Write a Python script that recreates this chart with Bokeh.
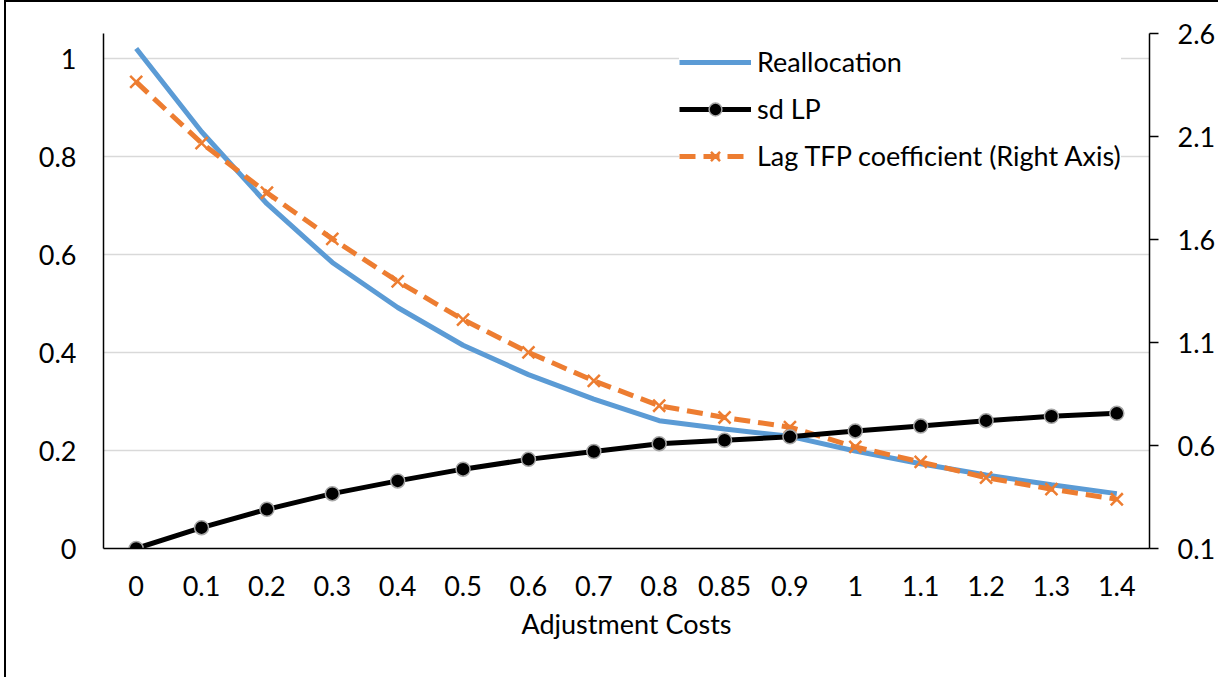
from bokeh.plotting import figure
from bokeh.models import (FactorRange, Range1d, LinearAxis, FixedTicker, Legend, LegendItem)
from bokeh.embed import file_html
from bokeh.resources import INLINE

# ---- data ----
costs = ["0", "0.1", "0.2", "0.3", "0.4", "0.5", "0.6", "0.7", "0.8", "0.85",
         "0.9", "1", "1.1", "1.2", "1.3", "1.4"]
reallocation = [1.021, 0.851, 0.704, 0.584, 0.492, 0.415, 0.355, 0.305, 0.261,
                0.244, 0.229, 0.199, 0.173, 0.150, 0.130, 0.112]
sd_lp = [0.000, 0.0425, 0.080, 0.112, 0.138, 0.162, 0.182, 0.198, 0.214,
         0.221, 0.228, 0.240, 0.250, 0.261, 0.270, 0.276]
lag_tfp = [2.365, 2.068, 1.827, 1.603, 1.397, 1.211, 1.052, 0.914, 0.793,
           0.736, 0.689, 0.593, 0.520, 0.444, 0.388, 0.339]
left_ticks = [0, 0.2, 0.4, 0.6, 0.8, 1]
right_ticks = [0.1, 0.6, 1.1, 1.6, 2.1, 2.6]

FONT = "Lato"
FS = "27px"

p = figure(x_range=FactorRange(factors=costs, range_padding=0),
           y_range=Range1d(0, 1.0515),
           frame_width=1046, frame_height=515,
           min_border_left=97, min_border_right=69,
           min_border_top=31, min_border_bottom=129,
           output_backend="svg", toolbar_location=None)
p.extra_y_ranges = {"right": Range1d(0.1, 2.6)}
p.outline_line_color = None
p.background_fill_color = "white"
p.border_fill_color = "white"
p.styles = {"border-left": "2px solid black", "border-top": "2px solid black",
            "margin-left": "4px"}

# grid
p.xgrid.grid_line_color = None
p.ygrid.grid_line_color = "#d9d9d9"
p.ygrid.grid_line_width = 1.5
p.ygrid.ticker = FixedTicker(ticks=left_ticks)

# left axis
ya = p.yaxis[0]
ya.ticker = FixedTicker(ticks=left_ticks)
ya.major_tick_out = 0
ya.major_tick_in = 0
ya.minor_tick_out = 0
ya.minor_tick_in = 0
ya.axis_line_color = "black"
ya.axis_line_width = 1.5
ya.major_label_standoff = 27
ya.major_label_text_font = FONT
ya.major_label_text_font_size = FS
ya.major_label_text_color = "black"

# x axis
xa = p.xaxis[0]
xa.major_tick_out = 0
xa.major_tick_in = 0
xa.axis_line_color = "black"
xa.axis_line_width = 1.5
xa.major_label_standoff = 27
xa.major_label_text_font = FONT
xa.major_label_text_font_size = FS
xa.major_label_text_color = "black"
xa.axis_label = "Adjustment Costs"
xa.axis_label_text_font = FONT
xa.axis_label_text_font_size = FS
xa.axis_label_text_font_style = "normal"
xa.axis_label_text_color = "black"
xa.axis_label_standoff = 8

# right axis
ra = LinearAxis(y_range_name="right", ticker=FixedTicker(ticks=right_ticks))
ra.major_tick_out = 9
ra.major_tick_in = 0
ra.minor_tick_out = 0
ra.minor_tick_in = 0
ra.major_tick_line_width = 1.5
ra.axis_line_color = "black"
ra.axis_line_width = 1.5
ra.major_label_standoff = 19
ra.major_label_text_font = FONT
ra.major_label_text_font_size = FS
ra.major_label_text_color = "black"
p.add_layout(ra, "right")

# series
r_blue = p.line(costs, reallocation, line_color="#5b9bd5", line_width=5)
r_or_line = p.line(costs, lag_tfp, y_range_name="right", line_color="#ed7d31",
                   line_width=5, line_dash="16 8")
r_or_pts = p.scatter(costs, lag_tfp, y_range_name="right", marker="x", size=17,
                     line_color="#ed7d31", line_width=2.5)
r_blk_line = p.line(costs, sd_lp, line_color="black", line_width=5)
r_blk_pts = p.scatter(costs, sd_lp, marker="circle", size=14, fill_color="black",
                      line_color="#a6a6a6", line_width=1.5)

legend = Legend(items=[
    LegendItem(label="Reallocation", renderers=[r_blue]),
    LegendItem(label="sd LP", renderers=[r_blk_line, r_blk_pts]),
    LegendItem(label="Lag TFP coefficient (Right Axis)", renderers=[r_or_line, r_or_pts]),
], location=(576, 376))
legend.background_fill_color = "white"
legend.background_fill_alpha = 1.0
legend.border_line_color = None
legend.padding = 8
legend.margin = 0
legend.glyph_width = 72
legend.glyph_height = 32
legend.label_height = 32
legend.spacing = 14
legend.label_standoff = 6
legend.label_text_font = FONT
legend.label_text_font_size = FS
legend.label_text_color = "black"
p.add_layout(legend, "center")

open("out.html", "w").write(file_html(p, INLINE))
